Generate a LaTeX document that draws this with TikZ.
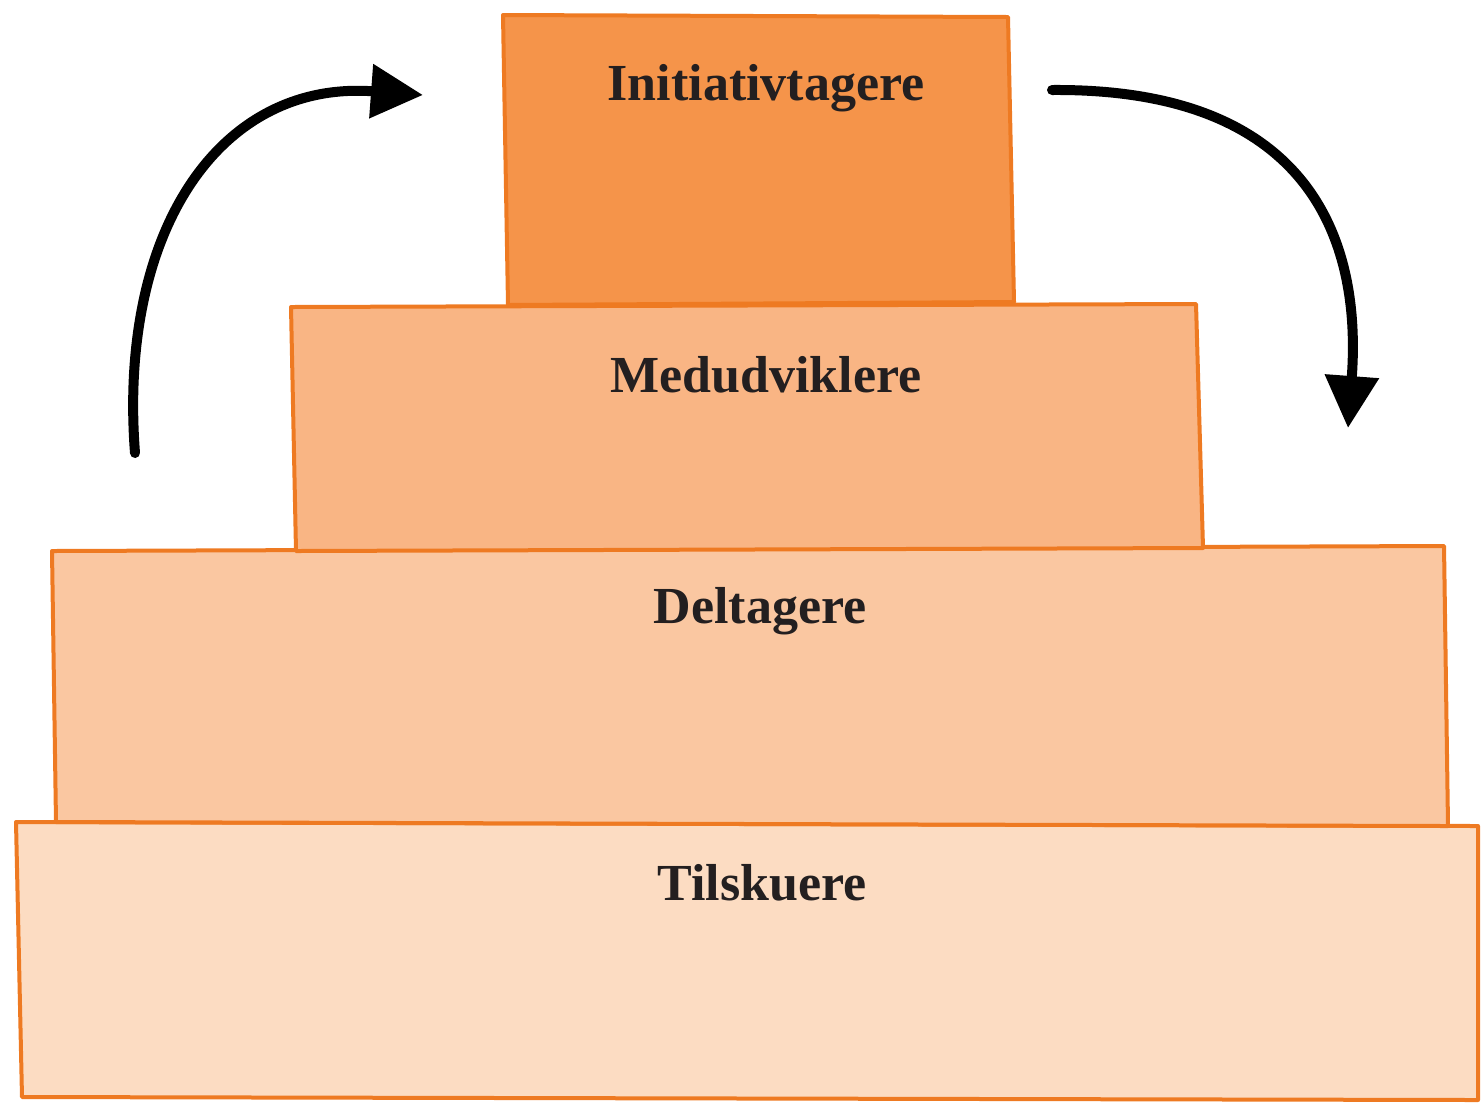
\documentclass[tikz,border=0pt]{standalone}
\usepackage{fontspec}
\setmainfont{Liberation Serif}
\usetikzlibrary{arrows.meta}
\definecolor{edge}{HTML}{EE7A22}
\definecolor{fA}{HTML}{F5944A}
\definecolor{fB}{HTML}{F9B584}
\definecolor{fC}{HTML}{FAC7A1}
\definecolor{fD}{HTML}{FCDCC2}
\definecolor{ink}{HTML}{231F20}
\tikzset{
  tier/.style={draw=edge, line width=2pt, line join=round},
  lbl/.style={font=\bfseries\fontsize{26}{30}\selectfont, text=ink, inner sep=0pt},
  cyc/.style={line width=5pt, draw=black, line cap=round,
    -{Triangle[length=26pt,width=26pt]}}
}
\begin{document}
\begin{tikzpicture}[x=0.5pt,y=-0.5pt]
\useasboundingbox (0,0) rectangle (1481,1105);
% tiers
\path[tier, fill=fD] (16,822) -- (1478,826) -- (1478,1100) -- (22,1097) -- cycle;
\path[tier, fill=fC] (52,551) -- (1444,546) -- (1448,826) -- (56,822) -- cycle;
\path[tier, fill=fB] (291,307) -- (1196,304) -- (1203,548) -- (296,551) -- cycle;
\path[tier, fill=fA] (503,15) -- (1008,17) -- (1014,302) -- (508,305) -- cycle;
% labels
\node[lbl] (init) at (766,88) {Initiativtagere};
\node[lbl] (med) at (766,375) {Medudviklere};
\node[lbl] (del) at (760,611) {Deltagere};
\node[lbl] (til) at (762,883) {Tilskuere};
% arrows
\coordinate (la) at (135,453);
\coordinate (lb) at (423,95);
\coordinate (ra) at (1052,90);
\coordinate (rb) at (1348,428);
\draw[cyc] (la) .. controls (118,230) and (220,80) .. (lb);
\draw[cyc] (ra) .. controls (1310,88) and (1362,240) .. (rb);
\end{tikzpicture}
\end{document}
